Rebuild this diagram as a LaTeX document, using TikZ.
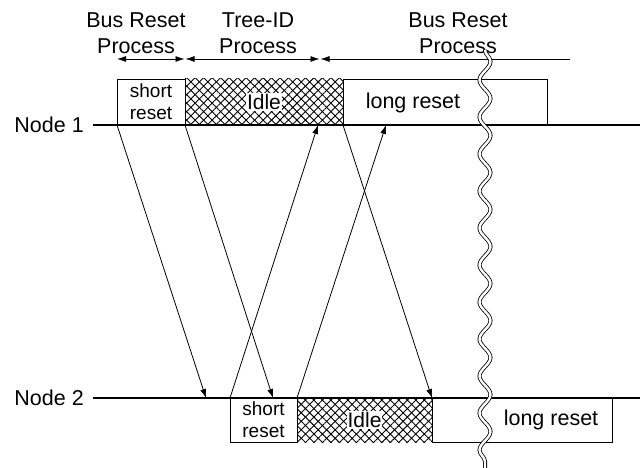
\documentclass[tikz,border=0pt]{standalone}
\usepackage{fontspec}
\setmainfont{Liberation Sans}
\usetikzlibrary{arrows.meta,patterns.meta,decorations.pathmorphing}

\begin{document}
\begin{tikzpicture}[x=1pt,y=-1pt,
  lbl/.style={font=\fontsize{21.5}{26}\selectfont, inner sep=0pt},
  boxtxt/.style={font=\fontsize{19}{22}\selectfont, align=center, inner sep=0pt},
  bigtxt/.style={font=\fontsize{21.5}{26}\selectfont, inner sep=0pt},
  slot/.style={draw, line width=0.8pt, anchor=north west, inner sep=0pt, outer sep=0pt},
  idlebox/.style={anchor=north west, inner sep=0pt, outer sep=0pt,
    pattern={Lines[angle=45,distance=6pt,line width=0.9pt]},
    postaction={pattern={Lines[angle=-45,distance=6pt,line width=0.9pt]}}},
  idletxt/.style={font=\fontsize{21}{24}\selectfont, fill=white, inner sep=1pt},
  msg/.style={line width=0.8pt, -{Latex[length=9pt,width=6pt]}},
  span/.style={line width=0.8pt, {Latex[length=9pt,width=6pt]}-{Latex[length=9pt,width=6pt]}},
  bus/.style={line width=1.2pt},
  brk/.style={draw=black, line width=0.8pt, double=white, double distance=2.4pt,
    decorate, decoration={snake, segment length=37pt, amplitude=5.5pt}}]

\useasboundingbox (0,0) rectangle (640,468);

% ---- phase headings ----
\node[lbl, anchor=base] (h1a) at (136,28) {Bus Reset};
\node[lbl, anchor=base] (h1b) at (136,54) {Process};
\node[lbl, anchor=base] (h2a) at (258,28) {Tree-ID};
\node[lbl, anchor=base] (h2b) at (258,54) {Process};
\node[lbl, anchor=base] (h3a) at (458,28) {Bus Reset};
\node[lbl, anchor=base] (h3b) at (458,54) {Process};

% phase extents
\coordinate (p0) at (117,59);
\coordinate (p1) at (184.5,59);
\coordinate (p1b) at (185.5,59);
\coordinate (p2) at (319.5,59);
\coordinate (p2b) at (320.5,59);
\coordinate (p3) at (570,59);
\draw[span] (p0) -- (p1);
\draw[span] (p1b) -- (p2);
\draw[line width=0.8pt, {Latex[length=9pt,width=6pt]}-] (p2b) -- (p3);

% ---- node 1 states ----
\node[idlebox, minimum width=158pt, minimum height=46pt] (idle1) at (185,79) {};
\node[slot, minimum width=68pt, minimum height=46pt] (sr1) at (117,79) {};
\node[slot, minimum width=204pt, minimum height=46pt] (lr1) at (343,79) {};

% ---- node 2 states ----
\node[idlebox, minimum width=135pt, minimum height=44pt] (idle2) at (297,398) {};
\node[slot, minimum width=67pt, minimum height=44pt] (sr2) at (230,398) {};
\node[slot, minimum width=180pt, minimum height=44pt] (lr2) at (432,398) {};

% ---- time lines ----
\node[lbl, anchor=east] (n1) at (84,125) {Node 1};
\node[lbl, anchor=east] (n2) at (84,398) {Node 2};
\coordinate (n1end) at (640,125);
\coordinate (n2end) at (640,398);
\draw[bus] (n1.east) ++(9,0) -- (n1end);
\draw[bus] (n2.east) ++(9,0) -- (n2end);

% ---- signals between the nodes ----
\coordinate (r1) at (206,398);
\coordinate (r2) at (273,398);
\coordinate (r3) at (318,125);
\coordinate (r4) at (386,125);
\draw[msg] (sr1.south west) -- (r1);
\draw[msg] (sr1.south east) -- (r2);
\draw[msg] (sr2.north west) -- (r3);
\draw[msg] (sr2.north east) -- (r4);
\draw[msg] (lr1.south west) -- (idle2.north east);

% ---- time break ----
\coordinate (b0) at (485,50);
\coordinate (b1) at (485,472);
\draw[brk] (b0) -- (b1);

% ---- state labels ----
\node[boxtxt] (t1) at (sr1.center) {short\\reset};
\node[idletxt] (t2) at (idle1.center) {Idle};
\node[bigtxt] (t3) at (413,103) {long reset};
\node[boxtxt] (t4) at (sr2.center) {short\\reset};
\node[idletxt] (t5) at (idle2.center) {Idle};
\node[bigtxt] (t6) at (551,420) {long reset};

\end{tikzpicture}
\end{document}
